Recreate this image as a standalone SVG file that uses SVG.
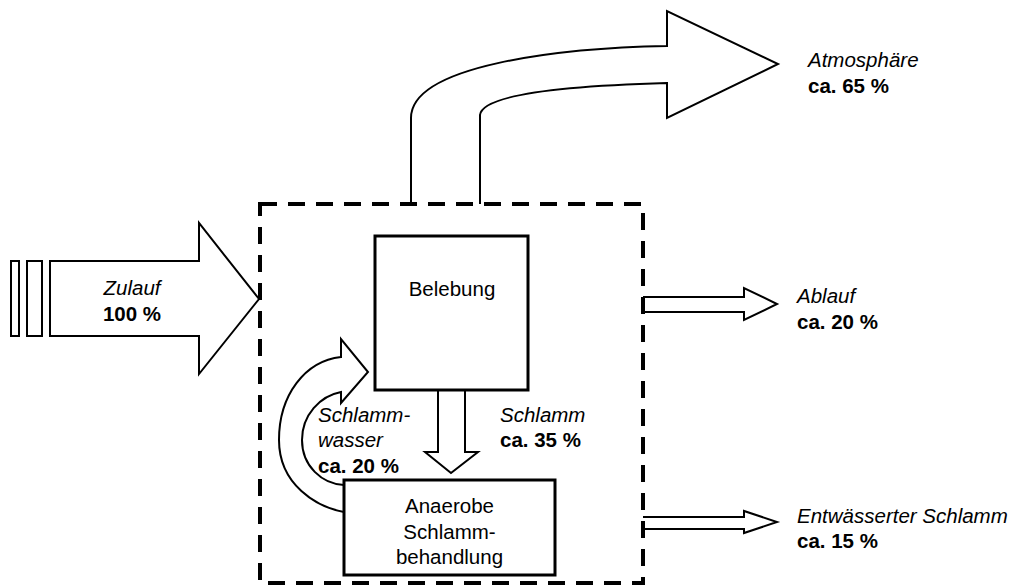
<svg xmlns="http://www.w3.org/2000/svg" width="1018" height="587" viewBox="0 0 1018 587">
  <style>
    .arrow { fill: #fff; stroke: #000; stroke-width: 2; stroke-linejoin: miter; }
    .box { fill: #fff; stroke: #000; stroke-width: 3; }
    .boundary { fill: none; stroke: #000; stroke-width: 4; stroke-dasharray: 17 11; }
    text { font-family: "Liberation Sans", Arial, sans-serif; font-size: 20.5px; fill: #000; }
    .it { font-style: italic; }
    .b { font-weight: bold; }
    .c { text-anchor: middle; }
  </style>
  <rect width="1018" height="587" fill="#fff"/>

  <!-- flows -->
  <g id="connectors">
    <!-- inflow arrow with stripes -->
    <rect class="arrow" x="11" y="261" width="8" height="75"/>
    <rect class="arrow" x="27" y="261" width="15" height="75"/>
    <path class="arrow" d="M50,261 H199 V223 L259,299 L199,374 V336 H50 Z"/>

    <!-- bent arrow to atmosphere -->
    <path class="arrow" d="M411,204 V118 C411,65 560,48 667,46 V11 L778,64 L667,118 V83 C560,86 482,95 480,115 V204"/>

    <!-- outflow -->
    <path class="arrow" d="M643,297 H744 V288 L777,304 L744,320 V312 H643"/>

    <!-- dewatered sludge -->
    <path class="arrow" d="M643,517 H744 V511 L777,522 L744,533 V529 H643"/>

    <!-- sludge down -->
    <path class="arrow" d="M438,390 V452 H425 L451,473 L478,452 H465 V390"/>

    <!-- sludge water return -->
    <path class="arrow" d="M344,512 C317,507 279,485 279,440 C279,395 305,361 341,357 V339 L368,372 L341,403 V392 C320,396 302,415 302,440 C302,466 322,484 344,485"/>
  </g>

  <!-- system boundary -->
  <rect class="boundary" x="260" y="204" width="383" height="379"/>

  <g id="belebung">
    <rect class="box" x="375" y="236" width="153" height="154"/>
    <text class="c" x="452" y="296">Belebung</text>
  </g>

  <g id="schlammbehandlung">
    <rect class="box" x="344" y="480" width="211" height="95"/>
    <text class="c" x="449.5" y="513">Anaerobe</text>
    <text class="c" x="449.5" y="539">Schlamm-</text>
    <text class="c" x="449.5" y="564">behandlung</text>
  </g>

  <g id="labels">
    <text class="it c" x="132" y="295">Zulauf</text>
    <text class="b c" x="132" y="321">100 %</text>

    <text class="it" x="808" y="67">Atmosphäre</text>
    <text class="b" x="808" y="93">ca. 65 %</text>

    <text class="it" x="797" y="303">Ablauf</text>
    <text class="b" x="797" y="329">ca. 20 %</text>

    <text class="it" x="797" y="523">Entwässerter Schlamm</text>
    <text class="b" x="797" y="548">ca. 15 %</text>

    <text class="it" x="318" y="422">Schlamm-</text>
    <text class="it" x="318" y="447">wasser</text>
    <text class="b" x="318" y="473">ca. 20 %</text>

    <text class="it" x="500" y="422">Schlamm</text>
    <text class="b" x="500" y="447">ca. 35 %</text>
  </g>
</svg>
